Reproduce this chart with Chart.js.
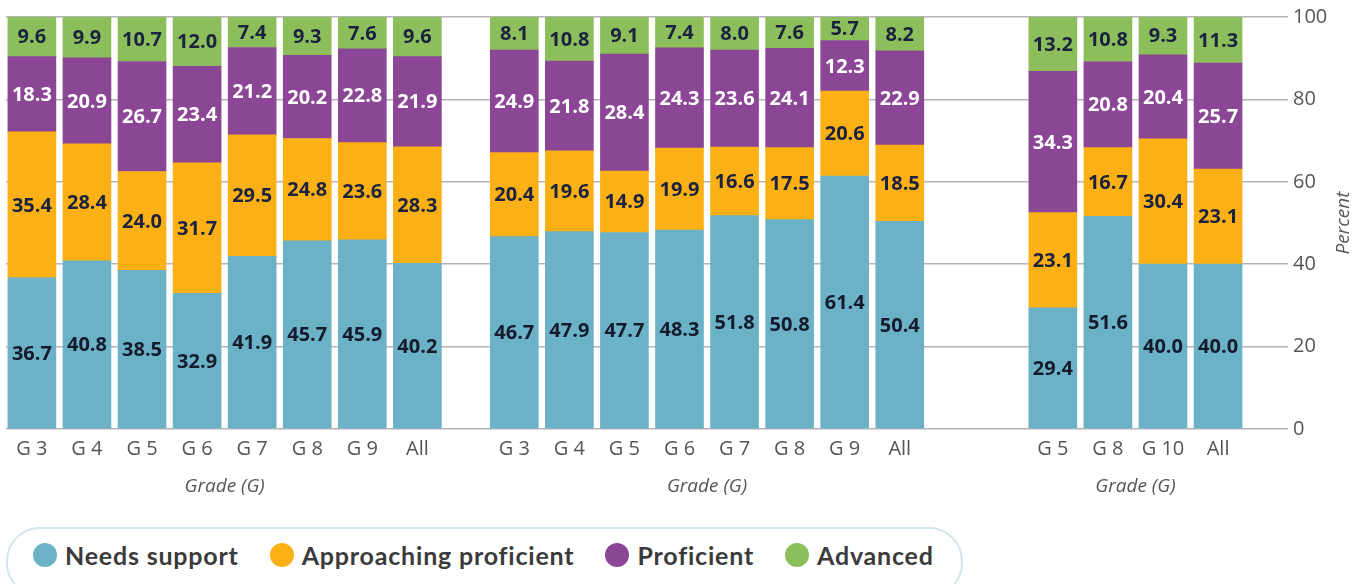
<!DOCTYPE html>
<html>
<head>
<meta charset="utf-8">
<script src="https://cdn.jsdelivr.net/npm/chart.js@4"></script>
<style>
  body { margin: 0; background: #fff; }
  #wrap { position: relative; width: 1367px; height: 584px; overflow: hidden; }
  #chart { position: absolute; left: 0; top: 0; }
  #legend {
    position: absolute; left: 6px; top: 527px; width: 957px; height: 70px;
    box-sizing: border-box; border: 2px solid #d3e6ed; border-radius: 34px;
    display: flex; align-items: flex-start; padding: 12px 0 0 25px;
    font-family: Lato, sans-serif; font-weight: 700; font-size: 25px; letter-spacing: 0.8px; color: #3b3b3b;
    white-space: nowrap;
  }
  .item { display: flex; align-items: center; height: 28px; margin-right: 31px; flex-shrink: 0; }
  .dot { width: 24px; height: 24px; border-radius: 50%; margin-right: 8px; flex-shrink: 0; }
</style>
</head>
<body>
<div id="wrap">
  <canvas id="chart" width="1367" height="515"></canvas>
  <div id="legend"></div>
</div>
<script>
  // three panels, one bar per grade
  const categories = [
    "G 3", "G 4", "G 5", "G 6", "G 7", "G 8", "G 9", "All",
    "G 3", "G 4", "G 5", "G 6", "G 7", "G 8", "G 9", "All",
    "G 5", "G 8", "G 10", "All",
  ];
  const groupSizes = [8, 8, 4];
  const groupTitle = "Grade (G)";

  const needsSupport = [
    36.7, 40.8, 38.5, 32.9, 41.9, 45.7, 45.9, 40.2,
    46.7, 47.9, 47.7, 48.3, 51.8, 50.8, 61.4, 50.4,
    29.4, 51.6, 40.0, 40.0,
  ];
  const approaching = [
    35.4, 28.4, 24.0, 31.7, 29.5, 24.8, 23.6, 28.3,
    20.4, 19.6, 14.9, 19.9, 16.6, 17.5, 20.6, 18.5,
    23.1, 16.7, 30.4, 23.1,
  ];
  const proficient = [
    18.3, 20.9, 26.7, 23.4, 21.2, 20.2, 22.8, 21.9,
    24.9, 21.8, 28.4, 24.3, 23.6, 24.1, 12.3, 22.9,
    34.3, 20.8, 20.4, 25.7,
  ];
  const advanced = [
    9.6, 9.9, 10.7, 12.0, 7.4, 9.3, 7.6, 9.6,
    8.1, 10.8, 9.1, 7.4, 8.0, 7.6, 5.7, 8.2,
    13.2, 10.8, 9.3, 11.3,
  ];
  const yTicks = [0, 20, 40, 60, 80, 100];

  // bar slots along a linear x axis, with wider gaps between panels
  const gapAfter = [1.76, 2.78];
  const xPos = [];
  const groupMid = [];
  let pos = 0;
  groupSizes.forEach((n, g) => {
    for (let i = 0; i < n; i++) xPos.push(pos + i);
    groupMid.push(pos + (n - 1) / 2);
    pos += n - 1 + (gapAfter[g] || 0);
  });
  const xMin = xPos[0] - 0.47;
  const xMax = xPos[xPos.length - 1] + 1.27;

  const toPoints = (arr) => arr.map((v, i) => ({ x: xPos[i], y: v }));

  const series = [
    { label: "Needs support", values: needsSupport, color: "#6bb2c7", text: "#151a2c" },
    { label: "Approaching proficient", values: approaching, color: "#fbb116", text: "#1b2240" },
    { label: "Proficient", values: proficient, color: "#8c4696", text: "#ffffff" },
    { label: "Advanced", values: advanced, color: "#8cbf5b", text: "#1b2240" },
  ];

  const segmentLabels = {
    id: "segmentLabels",
    afterDatasetsDraw(chart) {
      const ctx = chart.ctx;
      ctx.save();
      ctx.font = 'bold 20px "Open Sans"';
      ctx.textAlign = "center";
      ctx.textBaseline = "middle";
      chart.data.datasets.forEach((ds, di) => {
        ctx.fillStyle = ds.labelColor;
        chart.getDatasetMeta(di).data.forEach((bar, i) => {
          ctx.fillText(ds.data[i].y.toFixed(1), bar.x, (bar.y + bar.base) / 2 + 1);
        });
      });
      ctx.restore();
    },
  };

  const extraTitles = {
    id: "extraTitles",
    afterDraw(chart) {
      const ctx = chart.ctx;
      const xs = chart.scales.x;
      const area = chart.chartArea;
      ctx.save();
      ctx.fillStyle = "#555";
      ctx.font = 'italic 19px "Open Sans"';
      ctx.textAlign = "center";
      ctx.textBaseline = "middle";
      groupMid.forEach((m) => ctx.fillText(groupTitle, xs.getPixelForValue(m), 487));
      ctx.translate(1344, (area.top + area.bottom) / 2);
      ctx.rotate(-Math.PI / 2);
      ctx.fillText("Percent", 0, 0);
      ctx.restore();
    },
  };

  new Chart(document.getElementById("chart"), {
    type: "bar",
    data: {
      datasets: series.map((s) => ({
        label: s.label,
        data: toPoints(s.values),
        backgroundColor: s.color,
        labelColor: s.text,
        barThickness: 48,
      })),
    },
    options: {
      responsive: false,
      animation: false,
      layout: { padding: { left: 6, right: 0, top: 15, bottom: 0 } },
      plugins: { legend: { display: false }, tooltip: { enabled: false } },
      scales: {
        x: {
          type: "linear",
          stacked: true,
          offset: false,
          bounds: "data",
          min: xMin,
          max: xMax,
          grid: { display: false, drawTicks: false },
          border: { display: false },
          afterBuildTicks: (scale) => { scale.ticks = xPos.map((v) => ({ value: v })); },
          afterFit: (scale) => { scale.height = 86; },
          ticks: {
            autoSkip: false,
            maxRotation: 0,
            minRotation: 0,
            padding: 8,
            color: "#555",
            font: { family: "Open Sans", size: 20 },
            callback: (v, i) => categories[i],
          },
        },
        y: {
          position: "right",
          stacked: true,
          min: 0,
          max: 100,
          grid: { color: "#b5b5b5", lineWidth: 1.5, drawTicks: false },
          border: { display: false },
          afterBuildTicks: (scale) => { scale.ticks = yTicks.map((v) => ({ value: v })); },
          afterFit: (scale) => { scale.width = 79; },
          ticks: {
            padding: 5,
            color: "#555",
            font: { family: "Open Sans", size: 20 },
          },
        },
      },
    },
    plugins: [segmentLabels, extraTitles],
  });

  const legend = document.getElementById("legend");
  series.forEach((s) => {
    const item = document.createElement("div");
    item.className = "item";
    const dot = document.createElement("span");
    dot.className = "dot";
    dot.style.background = s.color;
    const txt = document.createElement("span");
    txt.textContent = s.label;
    item.appendChild(dot);
    item.appendChild(txt);
    legend.appendChild(item);
  });
</script>
</body>
</html>
